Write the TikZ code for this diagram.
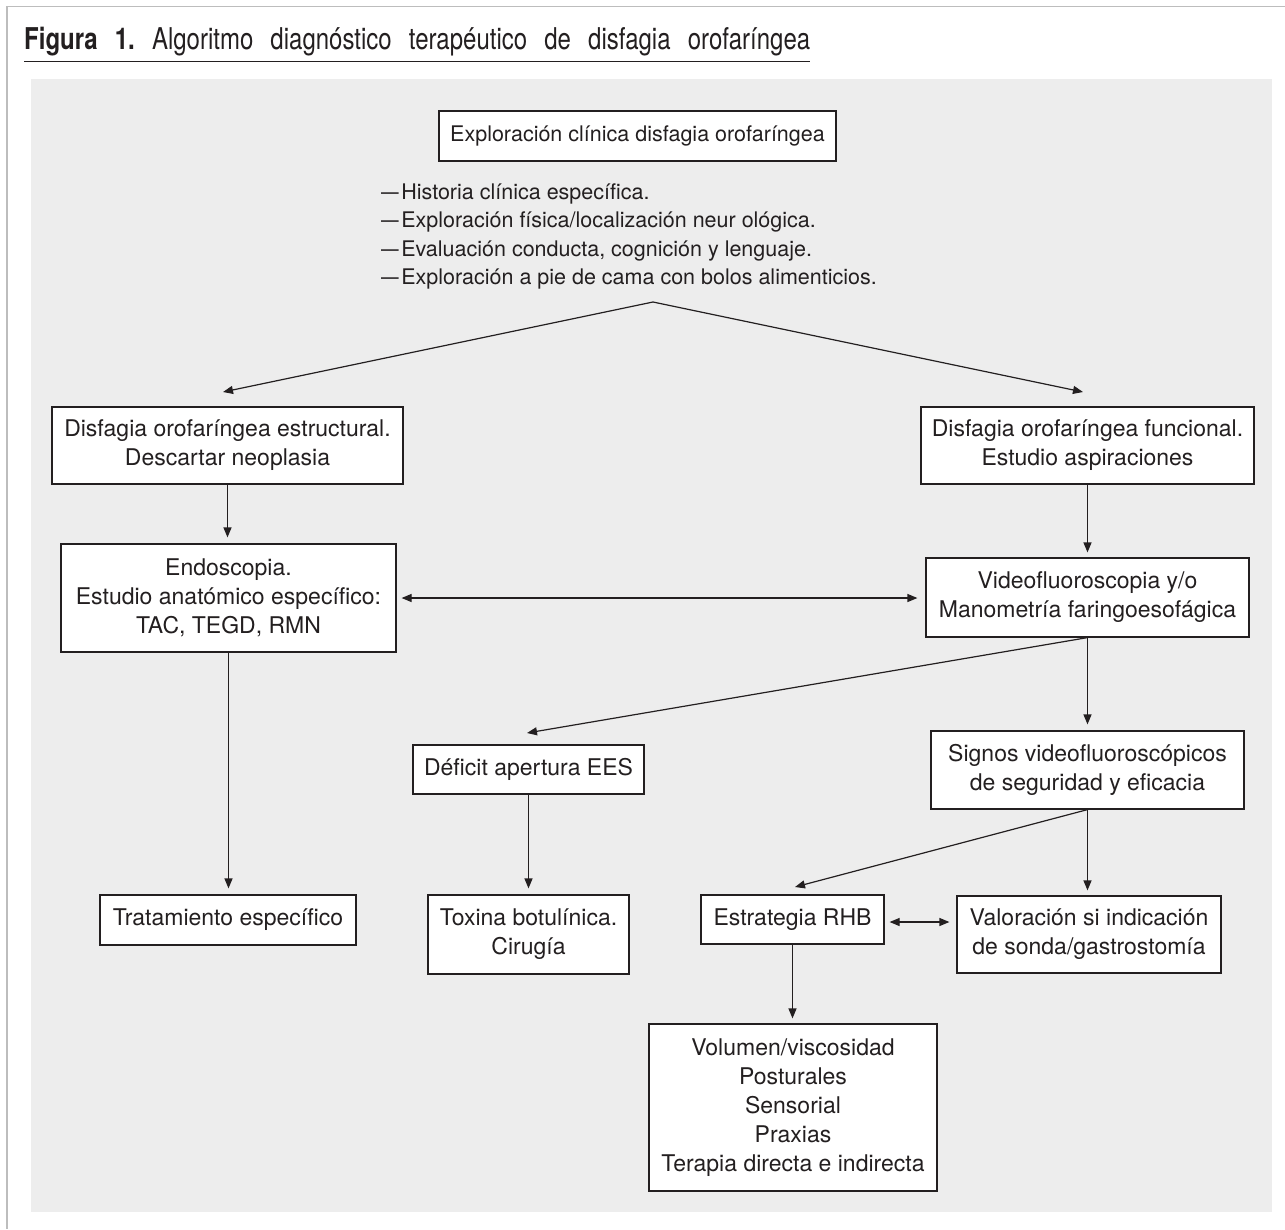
\documentclass[tikz,border=0pt]{standalone}
\usepackage{fontspec}
\usepackage{graphicx}
\setmainfont{TeX Gyre Heros}
\newfontfamily\titlefont[FakeStretch=0.8]{TeX Gyre Heros}
\usetikzlibrary{arrows.meta,calc}
\definecolor{ink}{HTML}{231F20}
\definecolor{panel}{HTML}{EDEDED}
\definecolor{framegray}{HTML}{BDBDBD}
\newcommand{\listdash}{\scalebox{0.82}[1]{—}\kern2.5pt}
\begin{document}
\frenchspacing
\begin{tikzpicture}[x=1pt,y=-1pt,
  box/.style={draw=ink, line width=1.2pt, fill=white, inner sep=0pt, align=center,
    font=\fontsize{23}{29}\selectfont, text=ink},
  arr/.style={draw=ink, line width=1.2pt, -{Triangle[length=10pt,width=8pt]}},
  darr/.style={draw=ink, line width=1.2pt, {Triangle[length=10pt,width=8pt]}-{Triangle[length=10pt,width=8pt]}},
  bullet/.style={anchor=base west, inner sep=0pt, text=ink, font=\fontsize{21.5}{28}\selectfont}]
\useasboundingbox (0,0) rectangle (1285,1229);
\fill[white] (0,0) rectangle (1285,1229);
\draw[framegray, line width=1.5pt] (1285,6.5) -- (7,6.5) -- (7,1229);
\fill[panel] (31,79) rectangle (1272,1212);

% title
\node[anchor=base west, inner sep=0pt, text=ink, font=\titlefont\fontsize{30}{30}\selectfont] (title) at (24,49)
  {\makebox[786pt][s]{\textbf{Figura 1.} Algoritmo diagnóstico terapéutico de disfagia orofaríngea}};
\draw[ink, line width=1pt] ($(title.base west)+(0,12)$) -- ($(title.base east)+(0,12)$);

% top box and list
\node[box, minimum width=397pt, minimum height=50pt, font=\fontsize{21.5}{27}\selectfont] (top) at (637.5,136)
  {Exploración clínica disfagia orofaríngea};
\node[bullet] (b1) at (381,199.3) {\listdash Historia clínica específica.};
\node[bullet] (b2) at (381,227.6) {\listdash Exploración física/localización neur ológica.};
\node[bullet] (b3) at (381,256.2) {\listdash Evaluación conducta, cognición y lenguaje.};
\node[bullet] (b4) at (381,284.5) {\listdash Exploración a pie de cama con bolos alimenticios.};

% boxes
\node[box, minimum width=351pt, minimum height=77pt] (dl) at (227.5,445.5)
  {Disfagia orofaríngea estructural.\\Descartar neoplasia};
\node[box, minimum width=333pt, minimum height=77pt] (dr) at (1087.5,445.5)
  {Disfagia orofaríngea funcional.\\Estudio aspiraciones};
\node[box, minimum width=335pt, minimum height=108pt] (endo) at (228.5,598)
  {Endoscopia.\\Estudio anatómico específico:\\TAC, TEGD, RMN};
\node[box, minimum width=323pt, minimum height=79pt] (video) at (1087.5,597.5)
  {Videofluoroscopia y/o\\Manometría faringoesofágica};
\node[box, minimum width=231pt, minimum height=49pt] (def) at (528.5,769.5)
  {Déficit apertura EES};
\node[box, minimum width=313pt, minimum height=78pt] (signos) at (1087.5,770)
  {Signos videofluoroscópicos\\de seguridad y eficacia};
\node[box, minimum width=256pt, minimum height=50pt] (trat) at (228,920)
  {Tratamiento específico};
\node[box, minimum width=201pt, minimum height=79pt] (tox) at (528.5,934.5)
  {Toxina botulínica.\\Cirugía};
\node[box, minimum width=183pt, minimum height=49pt] (estr) at (792.5,919.5)
  {Estrategia RHB};
\node[box, minimum width=264pt, minimum height=77pt] (val) at (1089,934.5)
  {Valoración si indicación\\de sonda/gastrostomía};
\node[box, minimum width=288pt, minimum height=167pt] (vol) at (793,1107.5)
  {Volumen/viscosidad\\Posturales\\Sensorial\\Praxias\\Terapia directa e indirecta};

% connectors
\coordinate (apex) at (653,302);
\coordinate (ltip) at (223,392);
\coordinate (rtip) at (1083,392);
\draw[darr] (ltip) -- (apex) -- (rtip);
\draw[arr, shorten >=6pt] (dl.south) -- (dl.south |- endo.north);
\draw[arr, shorten >=5pt] (dr.south) -- (dr.south |- video.north);
\draw[darr, shorten <=5pt, shorten >=8pt] (endo.east) -- (endo.east -| video.west);
\coordinate (deftip) at (527,733);
\draw[arr] (video.south) -- (deftip);
\draw[arr, shorten >=6pt] (video.south) -- (signos.north);
\draw[arr, shorten >=6pt] (def.south) -- (def.south |- tox.north);
\draw[arr, shorten >=6pt] (endo.south) -- (endo.south |- trat.north);
\coordinate (esttip) at (795,887);
\draw[arr] (signos.south) -- (esttip);
\draw[arr, shorten >=5pt] (signos.south) -- (signos.south |- val.north);
\draw[darr, shorten <=5pt, shorten >=7pt] ($(estr.east)+(0,2.5)$) -- ($(estr.east -| val.west)+(0,2.5)$);
\draw[arr, shorten >=5pt] (estr.south) -- (estr.south |- vol.north);
\end{tikzpicture}
\end{document}
